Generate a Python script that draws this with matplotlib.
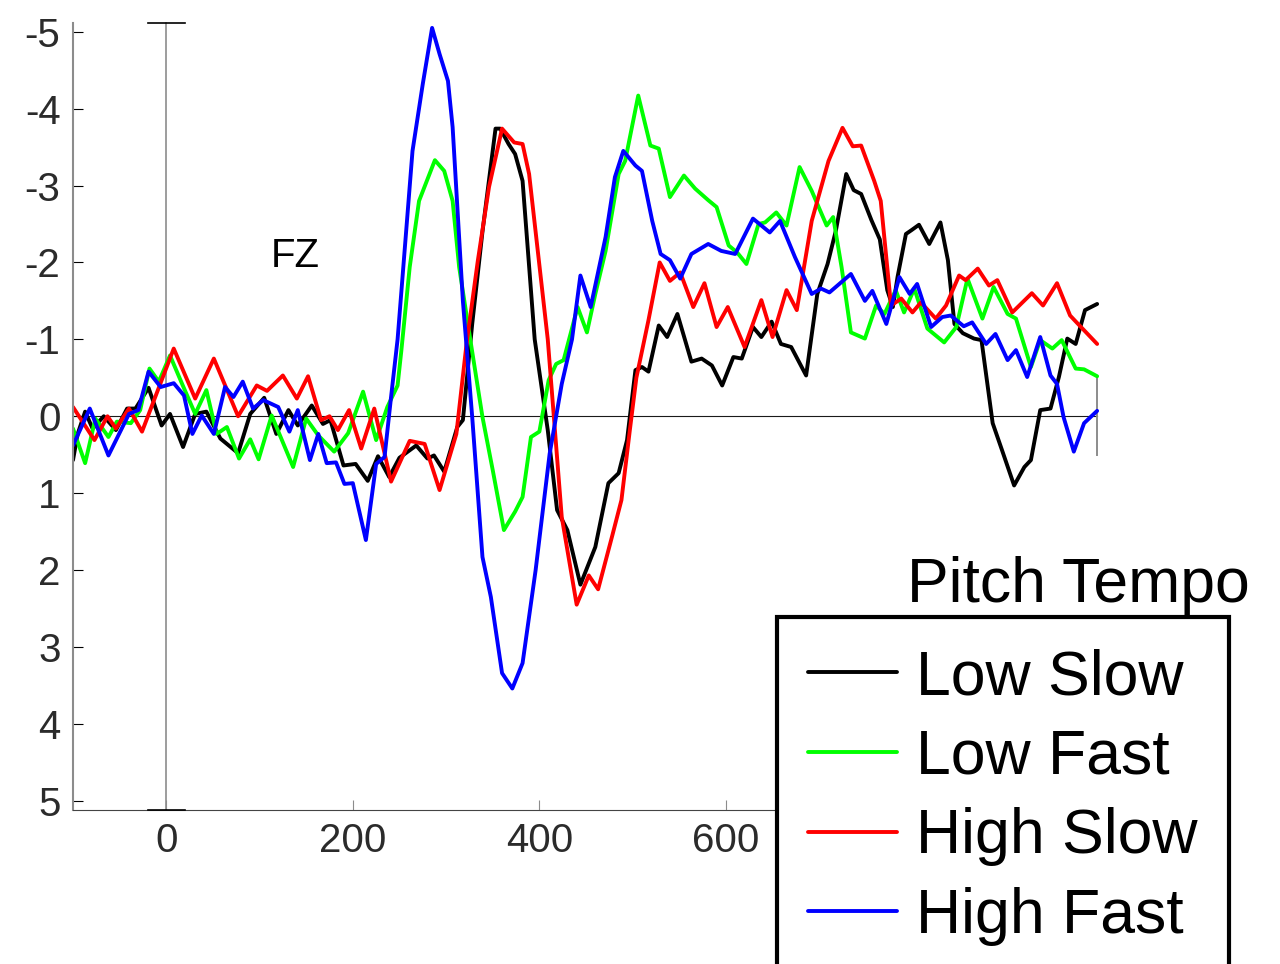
import matplotlib

matplotlib.use("Agg")
import matplotlib.pyplot as plt

plt.rcParams["font.family"] = ["Liberation Sans", "DejaVu Sans"]

# ERP at electrode FZ (ms, microvolts; negative up)
conditions = ["Low Slow", "Low Fast", "High Slow", "High Fast"]
colors = ["#000000", "#00ff00", "#ff0000", "#0000ff"]

low_slow_t = [-100, -95, -87, -79, -67, -54, -42, -33, -19, -5, 4, 18, 31, 43, 58, 77, 90,
              105, 118, 131, 141, 156, 168, 176, 190, 203, 216, 227, 239, 250, 268, 280, 287,
              298, 312, 318, 328, 339, 353, 358, 367, 374, 382, 395, 409, 419, 430, 444, 460,
              474, 485, 494, 503, 510, 517, 528, 537, 548, 563, 574, 585, 596, 608, 617, 629,
              638, 649, 659, 670, 686, 698, 709, 718, 729, 737, 745, 756, 765, 773, 779, 784,
              793, 799, 807, 818, 830, 838, 845, 854, 866, 874, 886, 896, 909, 920, 927, 937,
              948, 957, 966, 975, 985, 998]
low_slow_uv = [0.57, 0.23, -0.06, 0.16, 0.00, 0.18, -0.10, -0.10, -0.37, 0.12, -0.03, 0.40,
               -0.03, -0.06, 0.29, 0.48, -0.03, -0.24, 0.23, -0.08, 0.12, -0.14, 0.10, 0.05,
               0.64, 0.62, 0.84, 0.52, 0.79, 0.54, 0.38, 0.55, 0.51, 0.72, 0.14, 0.05, -1.2,
               -2.4, -3.74, -3.74, -3.54, -3.41, -3.06, -1.0, 0.18, 1.22, 1.48, 2.19, 1.70,
               0.87, 0.74, 0.31, -0.60, -0.64, -0.58, -1.18, -1.03, -1.33, -0.71, -0.75, -0.66,
               -0.40, -0.77, -0.75, -1.16, -1.03, -1.23, -0.94, -0.90, -0.53, -1.59, -1.98,
               -2.42, -3.15, -2.94, -2.89, -2.55, -2.3, -1.64, -1.42, -1.81, -2.37, -2.42,
               -2.49, -2.24, -2.52, -2.03, -1.20, -1.08, -1.01, -0.99, 0.09, 0.44, 0.90, 0.66,
               0.57, -0.08, -0.10, -0.51, -1.01, -0.94, -1.38, -1.46]

low_fast_t = [-100, -87, -76, -62, -53, -38, -28, -18, -8, 4, 17, 31, 43, 54, 65, 78, 90, 99,
              113, 136, 150, 163, 180, 195, 211, 225, 237, 248, 252, 261, 271, 288, 298, 307,
              314, 325, 339, 350, 362, 374, 382, 391, 400, 410, 418, 426, 441, 451, 460, 471,
              485, 492, 506, 519, 528, 540, 555, 567, 581, 590, 603, 612, 622, 635, 642, 654,
              665, 679, 692, 708, 715, 724, 734, 749, 761, 770, 782, 791, 802, 816, 834, 847,
              859, 875, 887, 902, 911, 927, 937, 950, 960, 975, 984, 998]
low_fast_uv = [0.16, 0.61, 0.03, 0.27, 0.07, 0.09, -0.08, -0.62, -0.45, -0.79, -0.42, -0.03,
               -0.34, 0.23, 0.14, 0.55, 0.30, 0.56, -0.01, 0.66, 0.03, 0.25, 0.46, 0.22, -0.32,
               0.31, -0.12, -0.40, -0.85, -1.94, -2.80, -3.33, -3.19, -2.80, -1.94, -1.07, 0.01,
               0.70, 1.48, 1.24, 1.05, 0.27, 0.20, -0.47, -0.68, -0.73, -1.42, -1.09, -1.59,
               -2.15, -3.15, -3.32, -4.17, -3.52, -3.48, -2.85, -3.13, -2.96, -2.81, -2.72,
               -2.22, -2.13, -1.98, -2.50, -2.52, -2.65, -2.48, -3.24, -2.93, -2.48, -2.59,
               -1.94, -1.09, -1.01, -1.44, -1.33, -1.64, -1.35, -1.66, -1.14, -0.96, -1.16,
               -1.79, -1.27, -1.68, -1.33, -1.27, -0.64, -0.99, -0.88, -0.99, -0.62, -0.61,
               -0.52]

high_slow_t = [-100, -77, -63, -54, -40, -26, 8, 31, 51, 77, 97, 108, 125, 140, 152, 166, 175,
               184, 196, 209, 223, 241, 261, 277, 293, 311, 322, 334, 346, 360, 373, 382, 389,
               409, 424, 440, 453, 463, 478, 488, 497, 504, 517, 529, 540, 551, 565, 577, 590,
               602, 620, 638, 650, 665, 676, 692, 710, 725, 736, 745, 759, 766, 777, 788, 800,
               809, 825, 836, 850, 857, 870, 882, 891, 907, 928, 940, 955, 969, 976, 998]
high_slow_uv = [-0.12, 0.31, 0.00, 0.16, -0.10, 0.20, -0.88, -0.23, -0.75, 0.00, -0.40, -0.33,
                -0.53, -0.23, -0.52, 0.05, 0.00, 0.18, -0.08, 0.42, -0.10, 0.85, 0.32, 0.36,
                0.96, 0.23, -0.95, -2.02, -2.98, -3.74, -3.56, -3.54, -3.15, -1.0, 1.31, 2.45,
                2.07, 2.25, 1.56, 1.09, 0.18, -0.5, -1.25, -2.0, -1.76, -1.87, -1.42, -1.73,
                -1.16, -1.42, -0.90, -1.51, -1.03, -1.64, -1.38, -2.54, -3.32, -3.75, -3.51,
                -3.52, -3.06, -2.8, -1.44, -1.53, -1.35, -1.48, -1.27, -1.44, -1.83, -1.77,
                -1.92, -1.70, -1.77, -1.35, -1.60, -1.44, -1.73, -1.31, -1.22, -0.94]

high_fast_t = [-100, -82, -62, -40, -30, -19, -6, 8, 19, 28, 38, 51, 63, 72, 82, 93, 104, 120,
               132, 141, 154, 163, 172, 182, 191, 200, 214, 225, 234, 241, 248, 264, 275, 285,
               293, 302, 307, 318, 328, 339, 348, 360, 371, 382, 396, 411, 424, 435, 444, 455,
               471, 481, 490, 503, 510, 521, 530, 540, 551, 563, 581, 595, 610, 629, 647, 658,
               674, 692, 702, 711, 734, 749, 757, 772, 786, 797, 805, 820, 832, 841, 855, 864,
               879, 889, 902, 911, 923, 937, 948, 955, 962, 973, 984, 998]
high_fast_uv = [0.38, -0.10, 0.51, -0.03, -0.08, -0.58, -0.38, -0.43, -0.27, 0.23, -0.01, 0.23,
                -0.38, -0.25, -0.45, -0.10, -0.21, -0.12, 0.20, -0.08, 0.57, 0.23, 0.61, 0.60,
                0.88, 0.87, 1.61, 0.62, 0.53, -0.25, -1.0, -3.45, -4.32, -5.05, -4.71, -4.36,
                -3.76, -1.5, 0.01, 1.83, 2.35, 3.34, 3.54, 3.21, 2.0, 0.49, -0.42, -1.0, -1.83,
                -1.42, -2.33, -3.11, -3.45, -3.26, -3.19, -2.54, -2.11, -2.03, -1.79, -2.11,
                -2.24, -2.15, -2.11, -2.57, -2.39, -2.54, -2.07, -1.59, -1.66, -1.61, -1.85,
                -1.50, -1.63, -1.20, -1.81, -1.59, -1.72, -1.16, -1.29, -1.31, -1.17, -1.22,
                -0.94, -1.07, -0.73, -0.86, -0.51, -1.03, -0.53, -0.42, 0.01, 0.46, 0.09, -0.07]

series_t = [low_slow_t, low_fast_t, high_slow_t, high_fast_t]
series_uv = [low_slow_uv, low_fast_uv, high_slow_uv, high_fast_uv]

y_ticks = [-5, -4, -3, -2, -1, 0, 1, 2, 3, 4, 5]
y_ticklabels = ["-5", "-4", "-3", "-2", "-1", "0", "1", "2", "3", "4", "5"]
x_ticks = [0, 200, 400, 600]   # 800 and 1000 sit behind the legend
XLIM = (-100, 1000)
YLIM = (5.12, -5.12)          # negative up, EEG convention
T_END = 998
CAP = 20                      # half-width of the onset marker caps, ms

W, H = 1280, 964
fig = plt.figure(figsize=(W / 100, H / 100), dpi=100)
ax = fig.add_axes([73 / W, 1 - 810 / H, (1099 - 73) / W, (810 - 22.5) / H])

# reference lines: zero baseline, stimulus onset with caps, end markers
ax.plot([XLIM[0], T_END], [0, 0], color="#1a1a1a", lw=0.8, zorder=1)
ax.plot([0, 0], list(YLIM), color="#8c8c8c", lw=1.2, zorder=1, clip_on=False)
for yy in YLIM:
    ax.plot([-CAP, CAP], [yy, yy], color="black", lw=1.2, zorder=3, clip_on=False)
for xx in (XLIM[0], T_END):
    ax.plot([xx, xx], [-0.5, 0.5], color="#8c8c8c", lw=1.4, zorder=1, clip_on=False)

lines = []
for t, uv, c, name in zip(series_t, series_uv, colors, conditions):
    ln, = ax.plot(t, uv, color=c, lw=2.8, label=name, zorder=2,
                  solid_joinstyle="round", solid_capstyle="round")
    lines.append(ln)

ax.set_xlim(*XLIM)
ax.set_ylim(*YLIM)
ax.set_yticks(y_ticks, y_ticklabels)
ax.set_xticks(x_ticks)
ax.tick_params(axis="y", direction="in", length=7, width=0.8, color="black",
               labelsize=29, labelcolor="#2b2b2b", pad=9)
ax.tick_params(axis="x", direction="in", length=7, width=0.8, color="#8c8c8c",
               labelsize=29, labelcolor="#2b2b2b", pad=9)
for s in ("top", "right"):
    ax.spines[s].set_visible(False)
ax.spines["left"].set_color("#8c8c8c")
ax.spines["left"].set_linewidth(1.5)
ax.spines["bottom"].set_color("#444444")
ax.spines["bottom"].set_linewidth(0.8)

ax.text(112, -2.08, "FZ", fontsize=29, ha="left", va="center", color="black")

leg = fig.legend(lines, conditions, loc="upper left",
                 bbox_to_anchor=(777 / W, 1 - 617 / H), borderaxespad=0,
                 fontsize=45, handlelength=1.42, handletextpad=0.3, labelspacing=0.33,
                 borderpad=0.5, fancybox=False, framealpha=1, edgecolor="black")
leg.get_frame().set_linewidth(3)
fig.text(1250 / W, 1 - 602 / H, "Pitch Tempo", fontsize=45, ha="right", va="baseline")

fig.savefig("out.png", dpi=100)
